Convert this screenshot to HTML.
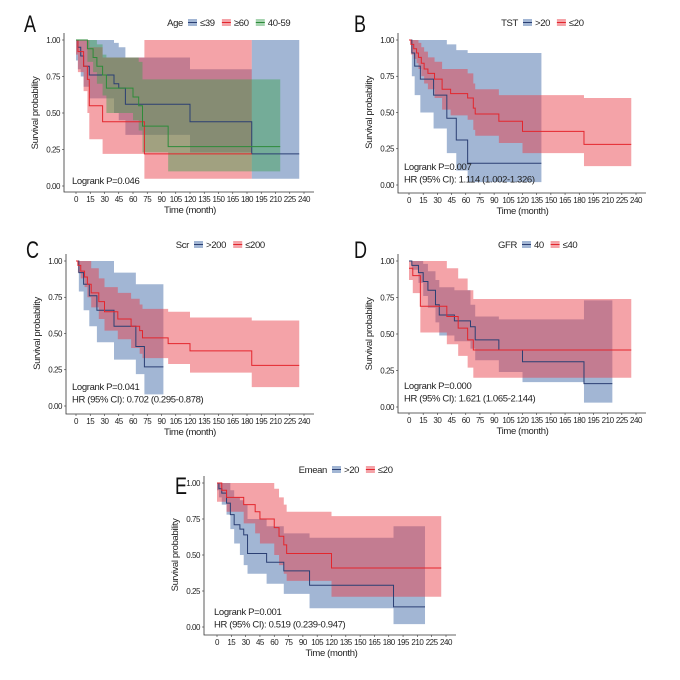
<!DOCTYPE html>
<html><head><meta charset="utf-8">
<style>
body{margin:0;background:#fff;}
svg{display:block;font-family:"Liberation Sans",sans-serif;}
.tk{font-size:8px;fill:#222;letter-spacing:-0.45px;}
.lab{font-size:9.5px;fill:#222;letter-spacing:-0.35px;}
.let{font-size:24px;fill:#111;}
</style></head>
<body>
<svg id="c" width="680" height="680" viewBox="0 0 680 680"></svg>
<script>
// Panel A (Age)
const aBlueT=[0,2,5,8,14,40,45,52,120,185]; const aBlueS=[1,0.95,0.89,0.82,0.76,0.7,0.67,0.56,0.44,0.22];
const aBlueL=[0.86,0.8,0.75,0.68,0.6,0.5,0.45,0.35,0.23,0.05]; const aBlueU=[1,1,1,1,1,0.98,0.95,0.88,0.8,1];
const aRedT=[0,2,8,12,14,28,72]; const aRedS=[1,0.92,0.82,0.73,0.55,0.44,0.22];
const aRedL=[0.9,0.78,0.65,0.5,0.32,0.22,0.05]; const aRedU=[1,1,1,1,0.95,0.88,1];
const aGrnT=[0,12,18,22,28,32,60,66,70,97]; const aGrnS=[1,0.94,0.88,0.82,0.76,0.67,0.61,0.55,0.41,0.27];
const aGrnL=[1,0.85,0.78,0.7,0.62,0.5,0.45,0.38,0.23,0.1]; const aGrnU=[1,1,1,0.97,0.9,0.88,0.88,0.85,0.73,0.73];
// Panel B (TST)
const bBlueT=[0,3,6,12,26,40,50,62]; const bBlueS=[1,0.91,0.82,0.73,0.62,0.46,0.31,0.15];
const bBlueL=[1,0.75,0.62,0.5,0.39,0.22,0.1,0.02]; const bBlueU=[1,1,1,1,1,0.97,0.93,0.91];
const bRedT=[0,2,5,8,10,13,16,20,27,35,44,62,68,70,95,120,185]; const bRedS=[1,0.97,0.94,0.91,0.88,0.84,0.8,0.77,0.73,0.66,0.63,0.6,0.53,0.49,0.44,0.37,0.28];
const bRedL=[1,0.9,0.87,0.84,0.8,0.75,0.7,0.66,0.6,0.52,0.48,0.45,0.38,0.34,0.29,0.22,0.13]; const bRedU=[1,1,1,1,0.98,0.95,0.92,0.88,0.85,0.8,0.8,0.77,0.7,0.66,0.62,0.62,0.6];
// Panel C (Scr)
const cBlueT=[0,3,8,14,22,40,63,72]; const cBlueS=[1,0.92,0.84,0.76,0.66,0.55,0.41,0.27];
const cBlueL=[1,0.79,0.66,0.55,0.44,0.32,0.22,0.08]; const cBlueU=[1,1,1,1,1,0.92,0.84,0.84];
const cRedT=[0,2,5,9,12,16,24,30,44,58,67,70,97,120,185]; const cRedS=[1,0.97,0.93,0.89,0.84,0.78,0.72,0.65,0.6,0.55,0.52,0.47,0.43,0.38,0.28];
const cRedL=[1,0.92,0.88,0.82,0.75,0.68,0.6,0.52,0.46,0.4,0.36,0.33,0.29,0.23,0.13]; const cRedU=[1,1,1,1,1,0.95,0.88,0.82,0.78,0.74,0.7,0.67,0.65,0.61,0.59];
// Panel D (GFR)
const dBlueT=[0,3,10,15,20,28,32,48,65,70,95,120,185]; const dBlueS=[1,0.97,0.92,0.86,0.8,0.7,0.63,0.59,0.55,0.46,0.39,0.31,0.16];
const dBlueL=[1,0.94,0.85,0.76,0.68,0.58,0.49,0.45,0.4,0.32,0.24,0.17,0.03]; const dBlueU=[1,1,1,0.98,0.93,0.87,0.82,0.8,0.7,0.62,0.6,0.6,0.73];
const dRedT=[0,4,12,40,52,62,68]; const dRedS=[0.95,0.9,0.69,0.62,0.54,0.46,0.39];
const dRedL=[0.87,0.78,0.51,0.43,0.35,0.27,0.2]; const dRedU=[1,1,1,0.95,0.88,0.8,0.74];
// Panel E (Emean)
const eBlueT=[0,2,5,10,14,18,24,28,32,52,70,97,185]; const eBlueS=[1,0.96,0.93,0.86,0.78,0.71,0.68,0.64,0.51,0.45,0.39,0.29,0.14];
const eBlueL=[0.95,0.9,0.85,0.78,0.68,0.58,0.5,0.43,0.37,0.3,0.23,0.13,0.02]; const eBlueU=[1,1,1,1,0.95,0.9,0.88,0.85,0.75,0.7,0.65,0.62,0.7];
const eRedT=[0,5,10,28,40,45,60,65,70,73,120]; const eRedS=[1,0.95,0.9,0.85,0.8,0.75,0.69,0.63,0.57,0.51,0.41];
const eRedL=[0.87,0.87,0.8,0.72,0.65,0.58,0.5,0.43,0.37,0.32,0.21]; const eRedU=[1,1,1,1,1,1,0.96,0.9,0.85,0.8,0.77];
const xTicks=[0,15,30,45,60,75,90,105,120,135,150,165,180,195,210,225,240];
const yTicks=[0,0.25,0.5,0.75,1];

const NS="http://www.w3.org/2000/svg";
const svg=document.getElementById('c');
function mk(tag,attrs,parent,txt){const e=document.createElementNS(NS,tag);for(const k in attrs)e.setAttribute(k,attrs[k]);if(txt!==undefined)e.textContent=txt;(parent||svg).appendChild(e);return e;}
const COL={blue:{f:"rgba(70,110,170,0.5)",l:"#2b3f73"},red:{f:"rgba(232,60,70,0.47)",l:"#e3262d"},green:{f:"rgba(60,160,80,0.45)",l:"#2e8b3a"}};

function panel(p){
  const g=mk('g',{});
  
  
  const X=t=>p.x0+t*(p.x240-p.x0)/240, Y=s=>p.y0-s*(p.y0-p.y1);
  p.series.forEach(s=>{
    let up="",lo=[];
    for(let i=0;i<s.T.length;i++){const a=X(s.T[i]),b=X(i+1<s.T.length?s.T[i+1]:s.end);
      up+=(i?"L":"M")+a+","+Y(s.U[i])+"L"+b+","+Y(s.U[i]);
      lo.unshift(b+","+Y(s.L[i]),a+","+Y(s.L[i]));}
    const band=mk('path',{d:up+"L"+lo.join("L")+"Z",fill:COL[s.c].f,stroke:"none"},g);
    
    
  });
  p.series.forEach(s=>{
    let d="";
    for(let i=0;i<s.T.length;i++){const a=X(s.T[i]),b=X(i+1<s.T.length?s.T[i+1]:s.end);
      d+=(i?"L":"M")+a+","+Y(s.S[i])+"L"+b+","+Y(s.S[i]);}
    const ln=mk('path',{d:d,fill:"none",stroke:COL[s.c].l,"stroke-width":1},g);
    
    
  });
  const ax=mk('path',{d:`M${p.ax},${Y(1)-7}V${p.ay}H${X(240)+10}`,fill:"none",stroke:"#333","stroke-width":0.8},g);
  
  
  yTicks.forEach(v=>{mk('line',{x1:p.ax-2,x2:p.ax,y1:Y(v),y2:Y(v),stroke:"#333","stroke-width":0.6},g);
    const t=mk('text',{x:p.ax-4,y:Y(v)+2.8,"text-anchor":"end",class:"tk"},g,v.toFixed(2));
    
    });
  xTicks.forEach(v=>{mk('line',{x1:X(v),x2:X(v),y1:p.ay,y2:p.ay+2,stroke:"#333","stroke-width":0.6},g);
    const t=mk('text',{x:X(v),y:p.ay+10,"text-anchor":"middle",class:"tk"},g,v);
    
    });
  const xt=mk('text',{x:(X(0)+X(240))/2,y:p.ay+21,"text-anchor":"middle",class:"lab"},g,"Time (month)");
  
  
  const yc=(Y(0)+Y(1))/2;
  const yt=mk('text',{x:0,y:0,transform:`translate(${p.ax-26},${yc}) rotate(-90)`,"text-anchor":"middle",class:"lab"},g,"Survival probability");
  
  
  const lt=mk('text',{x:0,y:0,transform:`translate(${p.lx},${p.ly}) scale(0.75,1)`,class:"let"},g,p.letter);
  
  
  const lg=mk('g',{},g);
  
  
  mk('text',{x:p.gx,y:p.gy,"text-anchor":"end",class:"lab"},lg,p.var);
  let cx=p.gx+5;
  p.series.forEach(s=>{
    const e=mk('g',{},lg);
    
    
    mk('rect',{x:cx,y:p.gy-7,width:9,height:7,fill:COL[s.c].f},e);
    mk('line',{x1:cx,x2:cx+9,y1:p.gy-3.5,y2:p.gy-3.5,stroke:COL[s.c].l,"stroke-width":1},e);
    mk('text',{x:cx+12,y:p.gy,class:"lab"},e,s.label);
    cx+=12+s.label.length*5.3+6;
  });
  p.notes.forEach((n,i)=>{const t=mk('text',{x:p.nx,y:p.ny+i*12.5,class:"lab"},g,n);
    
    });
}

panel({letter:"A",var:"Age",x0:76,x240:304,y0:186,y1:40,ax:64,ay:192,lx:24,ly:32,gx:183,gy:26,nx:72,ny:184,
  notes:["Logrank P=0.046"],
  series:[{name:"le39",c:"blue",label:"≤39",T:aBlueT,S:aBlueS,L:aBlueL,U:aBlueU,end:235},
          {name:"ge60",c:"red",label:"≥60",T:aRedT,S:aRedS,L:aRedL,U:aRedU,end:185},
          {name:"40-59",c:"green",label:"40-59",T:aGrnT,S:aGrnS,L:aGrnL,U:aGrnU,end:215}]});
panel({letter:"B",var:"TST",x0:409,x240:636,y0:185,y1:40,ax:398,ay:193,lx:354,ly:32,gx:518,gy:26,nx:404,ny:170,
  notes:["Logrank P=0.007","HR (95% CI): 1.114 (1.002-1.326)"],
  series:[{name:"gt20",c:"blue",label:">20",T:bBlueT,S:bBlueS,L:bBlueL,U:bBlueU,end:140},
          {name:"le20",c:"red",label:"≤20",T:bRedT,S:bRedS,L:bRedL,U:bRedU,end:235}]});
panel({letter:"C",var:"Scr",x0:76,x240:304,y0:406,y1:261,ax:66,ay:414,lx:26,ly:258,gx:189,gy:248,nx:72,ny:390,
  notes:["Logrank P=0.041","HR (95% CI): 0.702 (0.295-0.878)"],
  series:[{name:"gt200",c:"blue",label:">200",T:cBlueT,S:cBlueS,L:cBlueL,U:cBlueU,end:92},
          {name:"le200",c:"red",label:"≤200",T:cRedT,S:cRedS,L:cRedL,U:cRedU,end:235}]});
panel({letter:"D",var:"GFR",x0:409,x240:636,y0:407,y1:261,ax:398,ay:413,lx:354,ly:258,gx:517,gy:248,nx:404,ny:389,
  notes:["Logrank P=0.000","HR (95% CI): 1.621 (1.065-2.144)"],
  series:[{name:"40",c:"blue",label:"40",T:dBlueT,S:dBlueS,L:dBlueL,U:dBlueU,end:215},
          {name:"le40",c:"red",label:"≤40",T:dRedT,S:dRedS,L:dRedL,U:dRedU,end:235}]});
panel({letter:"E",var:"Emean",x0:217,x240:446,y0:627,y1:483,ax:204,ay:635,lx:175,ly:494,gx:327,gy:473,nx:214,ny:615,
  notes:["Logrank P=0.001","HR (95% CI): 0.519 (0.239-0.947)"],
  series:[{name:"gt20",c:"blue",label:">20",T:eBlueT,S:eBlueS,L:eBlueL,U:eBlueU,end:218},
          {name:"le20",c:"red",label:"≤20",T:eRedT,S:eRedS,L:eRedL,U:eRedU,end:235}]});
</script>
</body></html>
